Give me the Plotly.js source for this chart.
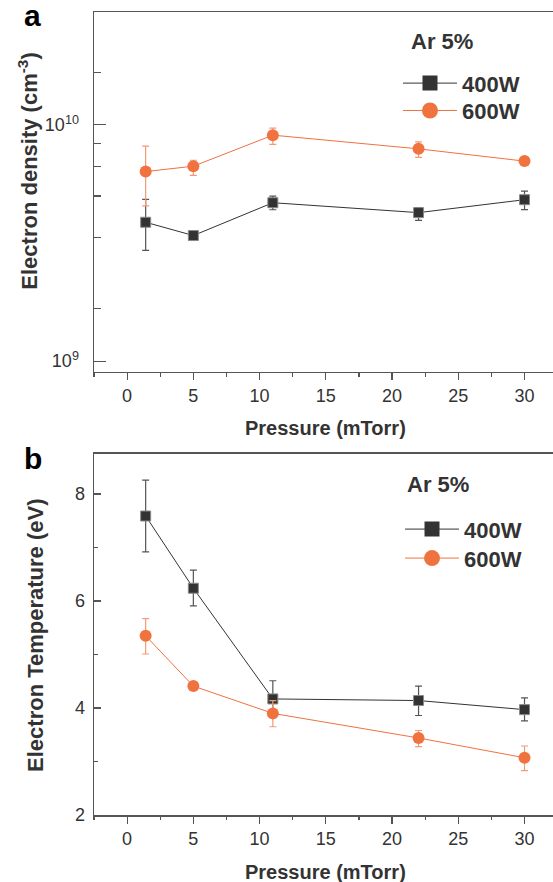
<!DOCTYPE html>
<html>
<head>
<meta charset="utf-8">
<script src="https://cdn.plot.ly/plotly-3.0.1.min.js"></script>
<style>
html,body{margin:0;padding:0;background:#fff;overflow:hidden;}
#chart{width:553px;height:882px;}
</style>
</head>
<body>
<div id="chart"></div>
<script>
// ---- data ----
var pressure = [1.4, 5, 11, 22, 30];
var xTickVals = [0, 5, 10, 15, 20, 25, 30];

var dens400 = [3.87e9, 3.40e9, 4.68e9, 4.25e9, 4.82e9];
var dens400Plus = [0.97e9, 0.08e9, 0.31e9, 0.20e9, 0.42e9];
var dens400Minus = [0.93e9, 0.08e9, 0.31e9, 0.31e9, 0.44e9];

var dens600 = [6.34e9, 6.68e9, 9.04e9, 7.91e9, 7.02e9];
var dens600Plus = [1.78e9, 0.40e9, 0.64e9, 0.56e9, 0.10e9];
var dens600Minus = [1.80e9, 0.57e9, 0.78e9, 0.63e9, 0.10e9];

var temp400 = [7.59, 6.24, 4.17, 4.14, 3.97];
var temp400Plus = [0.67, 0.34, 0.34, 0.27, 0.22];
var temp400Minus = [0.67, 0.33, 0.35, 0.28, 0.21];

var temp600 = [5.35, 4.41, 3.90, 3.44, 3.07];
var temp600Plus = [0.32, 0.05, 0.24, 0.14, 0.22];
var temp600Minus = [0.34, 0.05, 0.25, 0.16, 0.24];

var densMajorTicks = [1e9, 1e10];
var densMajorText = ['10<sup>9</sup>', '10<sup>10</sup>'];
var densMinorTicks = [1.667e9, 3.333e9, 5e9, 6.667e9, 8.333e9, 1.667e10];
var tempTickVals = [2, 4, 6, 8];

var seriesNames = ['400W', '600W'];

// ---- style ----
var FONT = 'Liberation Sans, Arial, Helvetica, sans-serif';
var C400 = '#333333', C600 = '#F0723F';
var E400 = '#555555', E600 = '#F39A77';
var AX = '#555555';

function errs(p, m, c) {
  return {type: 'data', symmetric: false, array: p, arrayminus: m, color: c, thickness: 1.2, width: 3.5};
}
function dataTrace(y, p, m, xa, ya, color, ecolor, symbol, size) {
  return {
    x: pressure, y: y, xaxis: xa, yaxis: ya, type: 'scatter', mode: 'lines+markers',
    line: {color: color, width: 1},
    marker: {symbol: symbol, size: size, color: color,
             line: {color: symbol === 'square' ? '#8a8a8a' : color, width: symbol === 'square' ? 1 : 0}},
    error_y: errs(p, m, ecolor), showlegend: false, hoverinfo: 'skip'
  };
}
function legendTrace(name, xa, ya, color, symbol, size, leg) {
  return {
    x: [null], y: [null], xaxis: xa, yaxis: ya, type: 'scatter', mode: 'lines+markers', name: name,
    line: {color: color, width: 1},
    marker: {symbol: symbol, size: size, color: color},
    legend: leg, showlegend: true
  };
}

var traces = [
  dataTrace(dens400, dens400Plus, dens400Minus, 'x', 'y', C400, E400, 'square', 10),
  dataTrace(dens600, dens600Plus, dens600Minus, 'x', 'y', C600, E600, 'circle', 12),
  dataTrace(temp400, temp400Plus, temp400Minus, 'x2', 'y2', C400, E400, 'square', 10),
  dataTrace(temp600, temp600Plus, temp600Minus, 'x2', 'y2', C600, E600, 'circle', 12),
  legendTrace(seriesNames[0], 'x', 'y', C400, 'square', 15, 'legend'),
  legendTrace(seriesNames[1], 'x', 'y', C600, 'circle', 16, 'legend3'),
  legendTrace(seriesNames[0], 'x2', 'y2', C400, 'square', 15, 'legend2'),
  legendTrace(seriesNames[1], 'x2', 'y2', C600, 'circle', 16, 'legend4')
];

function xAxis(anchor) {
  return {
    anchor: anchor, domain: [0, 1], range: [-2.5, 32.15],
    tickmode: 'array', tickvals: xTickVals,
    ticks: 'outside', ticklen: 7, tickwidth: 1.2, tickcolor: AX,
    minor: {dtick: 2.5, tick0: 0, ticks: 'outside', ticklen: 3.5, tickwidth: 1.2, tickcolor: AX},
    showline: true, linecolor: AX, linewidth: 1.5, mirror: true,
    showgrid: false, zeroline: false,
    tickfont: {family: FONT, size: 18, color: '#333'}
  };
}
function leg(x, y) {
  return {
    x: x, y: y, xanchor: 'left', yanchor: 'middle',
    bgcolor: 'rgba(0,0,0,0)', borderwidth: 0, itemwidth: 54, tracegroupgap: 0,
    font: {family: FONT, size: 22, color: '#333', weight: 700}
  };
}

var layout = {
  width: 553, height: 882,
  margin: {l: 94, r: 0, t: 12, b: 67},
  paper_bgcolor: '#fff', plot_bgcolor: '#fff',
  showlegend: true,
  xaxis: xAxis('y'),
  xaxis2: xAxis('y2'),
  yaxis: {
    anchor: 'x', domain: [0.5517, 1], type: 'log',
    range: [Math.log10(9e8), Math.log10(3e10)],
    tickmode: 'array', tickvals: densMajorTicks, ticktext: densMajorText,
    ticks: 'inside', ticklen: 12, tickwidth: 1.2, tickcolor: AX,
    minor: {tickmode: 'array', tickvals: densMinorTicks, ticks: 'inside', ticklen: 7, tickwidth: 1.2, tickcolor: AX},
    showline: true, linecolor: AX, linewidth: 1.5, mirror: false,
    showgrid: false, zeroline: false, ticklabelstandoff: 10,
    tickfont: {family: FONT, size: 18, color: '#333'}
  },
  yaxis2: {
    anchor: 'x2', domain: [0, 0.4496], range: [2, 8.75],
    tickmode: 'array', tickvals: tempTickVals,
    ticks: 'inside', ticklen: 7, tickwidth: 1.2, tickcolor: AX,
    minor: {dtick: 1, tick0: 0, ticks: 'inside', ticklen: 4, tickwidth: 1.2, tickcolor: AX},
    showline: true, linecolor: AX, linewidth: 1.5, mirror: false,
    showgrid: false, zeroline: false, ticklabelstandoff: 4,
    tickfont: {family: FONT, size: 18, color: '#333'}
  },
  legend: leg(0.6623, 0.9112),
  legend3: leg(0.6623, 0.8771),
  legend2: leg(0.6667, 0.3558),
  legend4: leg(0.6667, 0.3197),
  annotations: [
    {text: '<b>a</b>', xref: 'paper', yref: 'paper', x: -0.135, y: 0.9956, xanchor: 'center', yanchor: 'middle', showarrow: false, font: {family: FONT, size: 30, color: '#000'}},
    {text: '<b>b</b>', xref: 'paper', yref: 'paper', x: -0.133, y: 0.4436, xanchor: 'center', yanchor: 'middle', showarrow: false, font: {family: FONT, size: 30, color: '#000'}},
    {text: '<b>Electron density (cm<sup>-3</sup>)</b>', xref: 'paper', yref: 'paper', x: -0.1445, y: 0.802, xanchor: 'center', yanchor: 'middle', textangle: -90, showarrow: false, font: {family: FONT, size: 22, color: '#333'}},
    {text: '<b>Electron Temperature (eV)</b>', xref: 'paper', yref: 'paper', x: -0.1264, y: 0.2242, xanchor: 'center', yanchor: 'middle', textangle: -90, showarrow: false, font: {family: FONT, size: 22, color: '#333'}},
    {text: '<b>Pressure (mTorr)</b>', xref: 'paper', yref: 'paper', x: 0.5054, y: 0.4823, xanchor: 'center', yanchor: 'middle', showarrow: false, font: {family: FONT, size: 20, color: '#333'}},
    {text: '<b>Pressure (mTorr)</b>', xref: 'paper', yref: 'paper', x: 0.5054, y: -0.0705, xanchor: 'center', yanchor: 'middle', showarrow: false, font: {family: FONT, size: 20, color: '#333'}},
    {text: '<b>Ar 5%</b>', xref: 'paper', yref: 'paper', x: 0.758, y: 0.9631, xanchor: 'center', yanchor: 'middle', showarrow: false, font: {family: FONT, size: 22, color: '#333'}},
    {text: '<b>Ar 5%</b>', xref: 'paper', yref: 'paper', x: 0.749, y: 0.4122, xanchor: 'center', yanchor: 'middle', showarrow: false, font: {family: FONT, size: 22, color: '#333'}}
  ]
};

Plotly.newPlot('chart', traces, layout, {displayModeBar: false, staticPlot: true});
</script>
</body>
</html>
